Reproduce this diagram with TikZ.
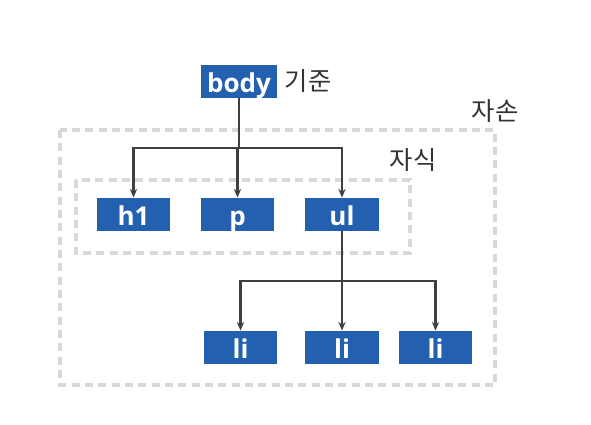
\documentclass[tikz,border=0pt]{standalone}
\usepackage{fontspec}
\setmainfont{Noto Sans CJK KR}
\newfontfamily\labelfont{Open Sans}
\usetikzlibrary{arrows.meta}

\definecolor{tagblue}{RGB}{36,96,176}
\definecolor{wire}{RGB}{64,64,64}
\definecolor{frame}{RGB}{216,216,216}

\tikzset{
  tag/.style={fill=tagblue, text=white, font=\labelfont\fontsize{19.5}{21}\selectfont\bfseries,
              minimum width=55pt, minimum height=25pt, inner sep=0pt,
              text height=19pt, text depth=2pt},
  group/.style={draw=frame, line width=2.3pt, dash pattern=on 6pt off 4pt},
  wire/.style={draw=wire, line width=1.8pt, -{Stealth[length=6.5pt,width=5.5pt]}},
  note/.style={font=\fontsize{19}{21}\selectfont, text=black!80}
}

\begin{document}
\begin{tikzpicture}[x=0.75pt, y=-0.75pt]
    \useasboundingbox (0,0) rectangle (591,424);

    \draw[group] (60,130) rectangle (495,385);
    \draw[group] (76,180) rectangle (410,253);

    \node[tag, minimum width=57pt] (body) at (239,81.5) {body};
    \node[note] (base) at (308,81) {기준};
    \node[note] (desc) at (495,111) {자손};
    \node[note] (child) at (413,160) {자식};

    \node[tag] (h1) at (133.5,214.5) {h1};
    \node[tag] (p) at (237.5,214.5) {p};
    \node[tag] (ul) at (342,214.5) {ul};

    \node[tag] (li1) at (240.5,347.5) {li};
    \node[tag] (li2) at (342,347.5) {li};
    \node[tag] (li3) at (435.5,347.5) {li};

    \coordinate (split1) at (239,148);
    \coordinate (split2) at (342,281);

    \draw[wire, -] (body) -- (split1);
    \draw[wire] (split1) -| (h1);
    \draw[wire] (split1) -| (p);
    \draw[wire] (split1) -| (ul);

    \draw[wire, -] (ul) -- (split2);
    \draw[wire] (split2) -| (li1);
    \draw[wire] (split2) -| (li2);
    \draw[wire] (split2) -| (li3);
\end{tikzpicture}
\end{document}
